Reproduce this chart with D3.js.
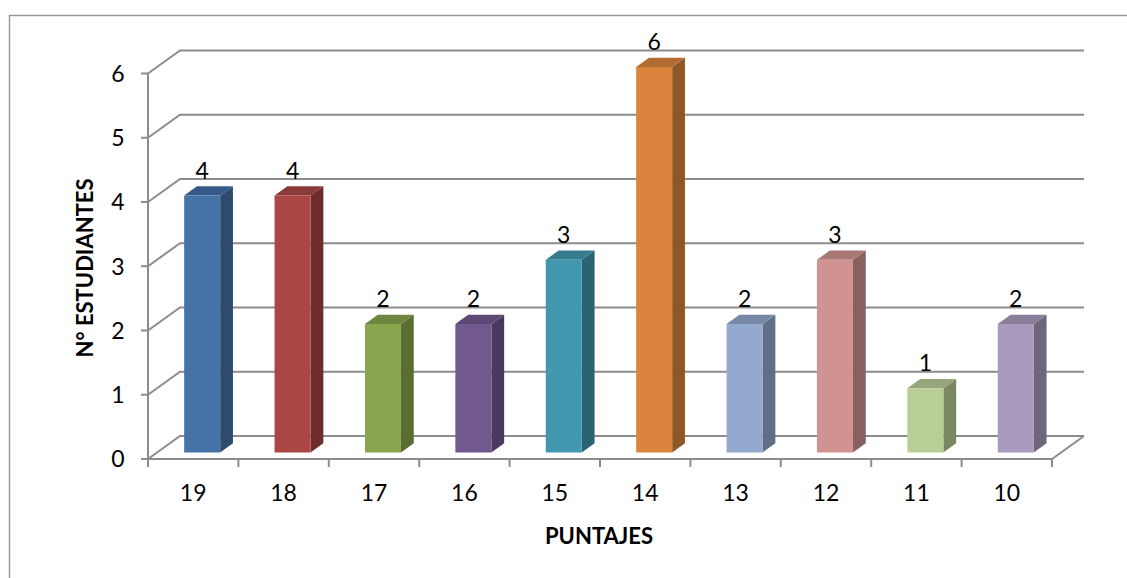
<!DOCTYPE html>
<html>
<head>
<meta charset="utf-8">
<script src="https://cdn.jsdelivr.net/npm/d3@7"></script>
<style>
  body { margin: 0; background: #fff; }
  svg text { font-family: Lato, "Open Sans", sans-serif; fill: #000; }
</style>
</head>
<body>
<div id="chart"></div>
<script>
// datos
const puntajes = ["19", "18", "17", "16", "15", "14", "13", "12", "11", "10"];
const estudiantes = [4, 4, 2, 2, 3, 6, 2, 3, 1, 2];
const yTicks = [0, 1, 2, 3, 4, 5, 6];
const frontColors = ["#4572A7", "#AA4643", "#89A54E", "#71588F", "#4198AF", "#DB843D", "#93A9CF", "#D19392", "#B9CD96", "#A99BBD"];
const sideColors  = ["#2E4B6E", "#6E2C2B", "#5A6D33", "#4A3A5E", "#2A6473", "#8F5628", "#606F88", "#896060", "#798763", "#6F667C"];
const topColors   = ["#36598A", "#8A3A38", "#6F8640", "#5C4874", "#357C8E", "#B26B32", "#7889A8", "#A97776", "#96A67A", "#897E9A"];

chart();

function chart() {
    const W = 1127, H = 578;
    const svg = d3.select("#chart").append("svg")
        .attr("width", W)
        .attr("height", H);

    // borde exterior
    svg.append("rect")
        .attr("x", 9.5).attr("y", 15.5)
        .attr("width", 1200).attr("height", 700)
        .attr("fill", "none")
        .attr("stroke", "#9a9a9a")
        .attr("stroke-width", 1.5);

    const x = d3.scaleBand().domain(puntajes).range([148, 1052]).padding(0);
    const y = d3.scaleLinear().domain([0, 6]).range([459, 73.5]);

    // profundidad 3D
    const DX = 32, DY = -23;
    const proj = (px, py, z) => [px + z * DX, py + z * DY];
    const grid = "#8c8c8c";

    // lineas de cuadricula (pared izquierda + pared de fondo)
    const backRight = 1052 + DX;
    yTicks.forEach(t => {
        const p0 = [148, y(t)];
        const p1 = proj(148, y(t), 1);
        const p2 = [backRight, y(t) + DY];
        svg.append("polyline")
            .attr("points", [p0, p1, p2].map(p => p.join(",")).join(" "))
            .attr("fill", "none")
            .attr("stroke", grid)
            .attr("stroke-width", 2);
    });

    // suelo: borde frontal y lateral derecho
    svg.append("polyline")
        .attr("points", [[148, y(0)], [1052, y(0)], proj(1052, y(0), 1)].map(p => p.join(",")).join(" "))
        .attr("fill", "none")
        .attr("stroke", grid)
        .attr("stroke-width", 2);

    // eje Y
    svg.append("line")
        .attr("x1", 148).attr("x2", 148)
        .attr("y1", y(6)).attr("y2", y(0))
        .attr("stroke", grid).attr("stroke-width", 2);

    yTicks.forEach(t => {
        svg.append("line")
            .attr("x1", 141).attr("x2", 148)
            .attr("y1", y(t)).attr("y2", y(t))
            .attr("stroke", grid).attr("stroke-width", 2);
        svg.append("text")
            .attr("x", 118)
            .attr("y", y(t))
            .attr("dy", "0.36em")
            .attr("text-anchor", "middle")
            .attr("font-size", 23)
            .text(t);
    });

    // eje X: marcas en los bordes de cada banda
    const edges = puntajes.map(d => x(d)).concat([1052]);
    edges.forEach(e => {
        svg.append("line")
            .attr("x1", e).attr("x2", e)
            .attr("y1", y(0)).attr("y2", y(0) + 8)
            .attr("stroke", grid).attr("stroke-width", 2);
    });

    svg.selectAll(".cat-label")
        .data(puntajes)
        .enter().append("text")
        .attr("class", "cat-label")
        .attr("x", d => x(d) + x.bandwidth() / 2)
        .attr("y", 493)
        .attr("dy", "0.36em")
        .attr("text-anchor", "middle")
        .attr("font-size", 23)
        .text(d => d);

    // barras 3D
    const bw = 36, zf = 0.28, zb = 0.68;
    puntajes.forEach((p, i) => {
        const v = estudiantes[i];
        const cx = x(p) + x.bandwidth() / 2;
        const xl = cx - bw / 2, xr = cx + bw / 2;
        const yt = y(v), yb = y(0);
        const fTL = proj(xl, yt, zf), fTR = proj(xr, yt, zf);
        const fBL = proj(xl, yb, zf), fBR = proj(xr, yb, zf);
        const bTL = proj(xl, yt, zb), bTR = proj(xr, yt, zb), bBR = proj(xr, yb, zb);
        const g = svg.append("g");
        const poly = pts => pts.map(q => q.join(",")).join(" ");
        g.append("polygon").attr("points", poly([fTR, bTR, bBR, fBR])).attr("fill", sideColors[i]);
        g.append("polygon").attr("points", poly([fTL, bTL, bTR, fTR])).attr("fill", topColors[i]);
        g.append("polygon").attr("points", poly([fTL, fTR, fBR, fBL])).attr("fill", frontColors[i]);

        svg.append("text")
            .attr("x", (fTL[0] + fTR[0]) / 2)
            .attr("y", fTL[1] - 17)
            .attr("text-anchor", "middle")
            .attr("font-size", 23)
            .text(v);
    });

    // titulos de ejes
    svg.append("text")
        .attr("x", 599).attr("y", 536)
        .attr("dy", "0.36em")
        .attr("text-anchor", "middle")
        .attr("font-size", 22)
        .attr("font-weight", "bold")
        .text("PUNTAJES");

    svg.append("text")
        .attr("transform", "translate(85,268) rotate(-90)")
        .attr("dy", "0.36em")
        .attr("text-anchor", "middle")
        .attr("font-size", 22)
        .attr("font-weight", "bold")
        .text("N° ESTUDIANTES");
}
</script>
</body>
</html>
